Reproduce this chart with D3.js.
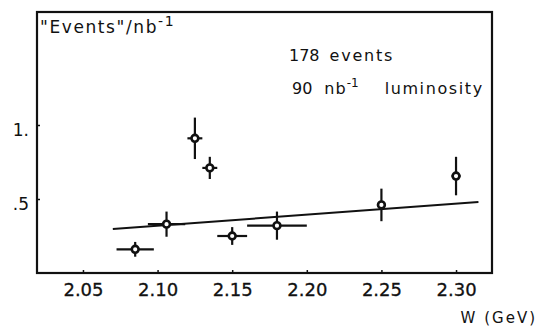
<!DOCTYPE html>
<html>
<head>
<meta charset="utf-8">
<script src="https://cdn.jsdelivr.net/npm/d3@7"></script>
<style>
  html, body { margin: 0; padding: 0; background: #fff; }
  svg { display: block; }
  text { font-family: "DejaVu Sans", sans-serif; fill: #111; }
</style>
</head>
<body>
<svg id="chart" width="549" height="329"></svg>
<script>
// Measured cross sections vs. centre-of-mass energy W
const W      = [2.085, 2.106, 2.125, 2.135, 2.150, 2.180, 2.250, 2.300];
const rate   = [0.16,  0.33,  0.91,  0.71,  0.25,  0.32,  0.46,  0.655];
const dRate  = [0.05,  0.085, 0.14,  0.075, 0.06,  0.095, 0.11,  0.13];
const dW     = [0.0125,0.0125,0.005, 0.005, 0.010, 0.020, 0.003, 0.003];

// Straight-line fit through the data
const fitW = [2.07, 2.315];
const fitY = [0.297, 0.48];

const xTicks = [2.05, 2.10, 2.15, 2.20, 2.25, 2.30];
const xTickLabels = ["2.05", "2.10", "2.15", "2.20", "2.25", "2.30"];
const yTicks = [0.5, 1.0];
const yTickLabels = [".5", "1."];

const frame = { left: 37, right: 492, top: 12, bottom: 273 };

const svg = d3.select("#chart");

const x = d3.scaleLinear()
  .domain([2.0192, 2.3241])
  .range([frame.left, frame.right]);
const y = d3.scaleLinear()
  .domain([0, 1.7635])
  .range([frame.bottom, frame.top]);

// axes with short inward ticks
const xAxis = svg.append("g")
  .attr("transform", `translate(0,${frame.bottom})`)
  .call(d3.axisBottom(x)
    .tickValues(xTicks)
    .tickSize(-3)
    .tickPadding(10)
    .tickFormat((d, i) => xTickLabels[i]));
xAxis.select(".domain").remove();
xAxis.selectAll(".tick line").attr("stroke", "#111").attr("stroke-width", 1.5);
xAxis.selectAll(".tick text")
  .attr("font-size", 18)
  .attr("font-family", "DejaVu Sans, sans-serif")
  .attr("fill", "#111")
  .attr("stroke", "#111")
  .attr("stroke-width", 0.3);

const yAxis = svg.append("g")
  .attr("transform", `translate(${frame.left},0)`)
  .call(d3.axisLeft(y)
    .tickValues(yTicks)
    .tickSize(-3)
    .tickPadding(8)
    .tickFormat((d, i) => yTickLabels[i]));
yAxis.select(".domain").remove();
yAxis.selectAll(".tick line").attr("stroke", "#111").attr("stroke-width", 1.5);
yAxis.selectAll(".tick text")
  .attr("font-size", 17)
  .attr("dy", "0.6em")
  .attr("font-family", "DejaVu Sans, sans-serif")
  .attr("fill", "#111");

// frame
svg.append("rect")
  .attr("x", frame.left).attr("y", frame.top)
  .attr("width", frame.right - frame.left)
  .attr("height", frame.bottom - frame.top)
  .attr("fill", "none")
  .attr("stroke", "#111")
  .attr("stroke-width", 2.2);

// fit line
svg.append("line")
  .attr("x1", x(fitW[0])).attr("y1", y(fitY[0]))
  .attr("x2", x(fitW[1])).attr("y2", y(fitY[1]))
  .attr("stroke", "#111")
  .attr("stroke-width", 2);

// data points with error bars
const pts = svg.append("g").selectAll("g")
  .data(W.map((w, i) => ({ w, r: rate[i], dr: dRate[i], dw: dW[i] })))
  .join("g");

pts.append("line")
  .attr("x1", d => x(d.w)).attr("x2", d => x(d.w))
  .attr("y1", d => y(d.r - d.dr)).attr("y2", d => y(d.r + d.dr))
  .attr("stroke", "#111").attr("stroke-width", 2.2);
pts.append("line")
  .attr("x1", d => x(d.w - d.dw)).attr("x2", d => x(d.w + d.dw))
  .attr("y1", d => y(d.r)).attr("y2", d => y(d.r))
  .attr("stroke", "#111").attr("stroke-width", 2.2);
pts.append("circle")
  .attr("cx", d => x(d.w)).attr("cy", d => y(d.r))
  .attr("r", 3.4)
  .attr("fill", "#fff")
  .attr("stroke", "#111")
  .attr("stroke-width", 2.6);

// axis titles and annotations
const yTitle = svg.append("text")
  .attr("x", 40).attr("y", 33)
  .attr("font-size", 17)
  .attr("letter-spacing", 1.6);
yTitle.append("tspan").text("\"Events\"/nb");
yTitle.append("tspan").attr("dy", -7).attr("font-size", 14).text("-1");

svg.append("text")
  .attr("x", 537).attr("y", 323)
  .attr("text-anchor", "end")
  .attr("font-size", 15)
  .attr("letter-spacing", 2)
  .text("W (GeV)");

const note1 = svg.append("text")
  .attr("x", 289).attr("y", 61)
  .attr("font-size", 16);
note1.append("tspan").text("178");
note1.append("tspan").attr("dx", 10).attr("letter-spacing", 1.8).text("events");

const note2 = svg.append("text")
  .attr("x", 292).attr("y", 94)
  .attr("font-size", 16);
note2.append("tspan").text("90");
note2.append("tspan").attr("dx", 12).attr("letter-spacing", 1).text("nb");
note2.append("tspan").attr("dy", -7).attr("font-size", 12).text("-1");
note2.append("tspan").attr("dy", 7).attr("dx", 26).attr("letter-spacing", 1.6).text("luminosity");
</script>
</body>
</html>
